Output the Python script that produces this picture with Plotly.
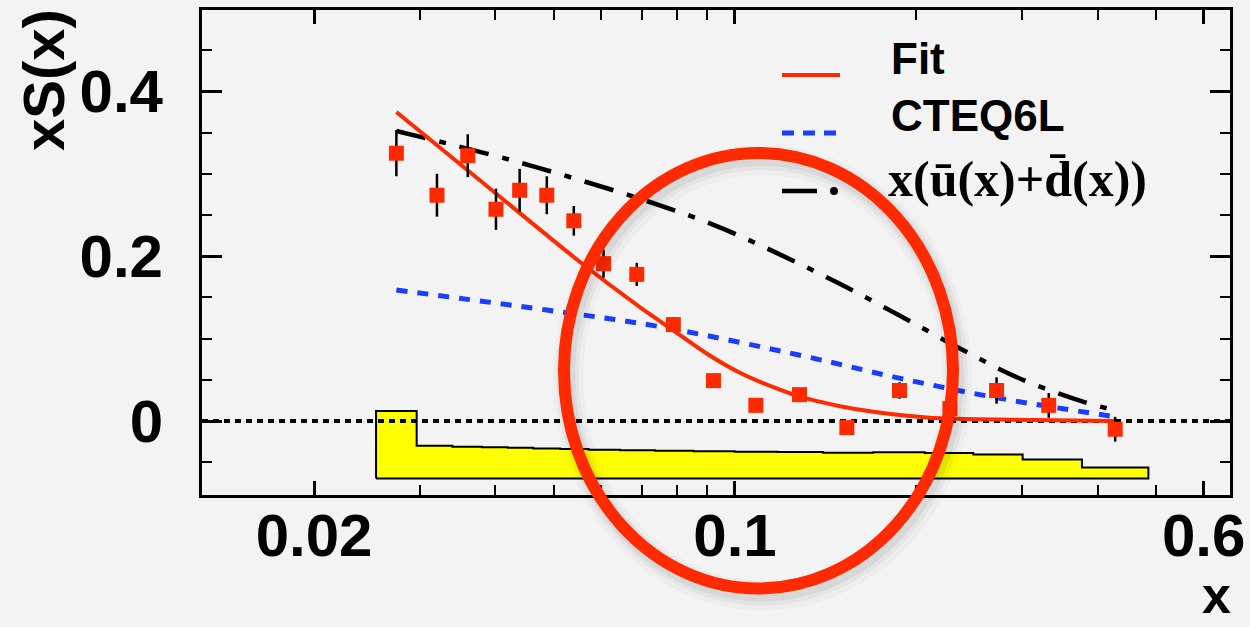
import numpy as np
import plotly.graph_objects as go

# ---------------- data ----------------
x_data = [0.0274, 0.0320, 0.0360, 0.0401, 0.0439, 0.0487, 0.0540, 0.0605, 0.0687, 0.0790,
          0.0921, 0.1083, 0.1280, 0.1534, 0.1876, 0.2275, 0.2719, 0.3319, 0.4279]
y_data = [0.325, 0.274, 0.322, 0.257, 0.280, 0.274, 0.243, 0.191, 0.178, 0.117,
          0.049, 0.019, 0.032, -0.008, 0.037, 0.015, 0.037, 0.019, -0.010]
y_err = [0.028, 0.026, 0.026, 0.025, 0.026, 0.023, 0.018, 0.017, 0.014, 0.009,
         0.007, 0.006, 0.006, 0.006, 0.010, 0.010, 0.016, 0.015, 0.015]

# systematic band (top of each bin, bins centred on data points), band floor
sys_top = [0.0121, -0.0300, -0.0312, -0.0319, -0.0324, -0.0334, -0.0340, -0.0348, -0.0356, -0.0360,
           -0.0368, -0.0373, -0.0376, -0.0385, -0.0380, -0.0388, -0.0407, -0.0467, -0.0564]
sys_floor = -0.0698

fit_x = [0.0274, 0.0389, 0.0553, 0.0696, 0.0790, 0.0897, 0.1019, 0.1158, 0.1282, 0.1494,
         0.1697, 0.1929, 0.2191, 0.3126, 0.4279]
fit_y = [0.375, 0.284, 0.193, 0.138, 0.110, 0.082, 0.0586, 0.041, 0.0295, 0.018,
         0.0113, 0.0064, 0.0033, 0.0012, 0.0]

cteq_x = [0.0274, 0.0487, 0.0751, 0.1315, 0.1879, 0.2756, 0.4279]
cteq_y = [0.159, 0.1347, 0.1144, 0.078, 0.0518, 0.0275, 0.0052]

ubar_x = [0.0274, 0.0332, 0.0428, 0.0549, 0.0714, 0.0915, 0.1165, 0.1479, 0.1866, 0.2364, 0.2983, 0.3838, 0.4279]
ubar_y = [0.352, 0.337, 0.316, 0.293, 0.267, 0.239, 0.205, 0.168, 0.129, 0.088, 0.051, 0.022, 0.013]

x_tickvals = [0.02, 0.1, 0.6]
x_ticktext = ["0.02", "0.1", "0.6"]
x_minor = [0.03, 0.04, 0.05, 0.06, 0.07, 0.08, 0.09, 0.2, 0.3, 0.4, 0.5]
y_tickvals = [0, 0.2, 0.4]
y_ticktext = ["0", "0.2", "0.4"]

x_range_log = [-1.885, -0.178]
y_range = [-0.0898, 0.4988]

# ---------------- layout geometry (pixels) ----------------
W, H = 1250, 627
L, R, T, B = 202, 20, 10, 132
PW, PH = W - L - R, H - T - B


def px(x):
    return (x - L) / PW


def py(y):
    return (H - B - y) / PH


RED = "#ff2a00"
BLUE = "#1a3dff"
BG = "#f3f3f3"
SANS = "Liberation Sans, Arial, sans-serif"
SERIF = "Liberation Serif, Times New Roman, serif"

fig = go.Figure()

# systematic band: step polygon with bin edges at geometric midpoints
xd = np.array(x_data)
mids = np.sqrt(xd[:-1] * xd[1:])
edges = np.concatenate([[xd[0] ** 2 / mids[0]], mids, [xd[-1] ** 2 / mids[-1]]])
hx, hy = [edges[0]], [sys_floor]
for i, top in enumerate(sys_top):
    hx += [edges[i], edges[i + 1]]
    hy += [top, top]
hx += [edges[-1], edges[0]]
hy += [sys_floor, sys_floor]
fig.add_trace(go.Scatter(x=hx, y=hy, mode="lines", fill="toself", fillcolor="#ffff00",
                         line=dict(color="black", width=2), hoverinfo="skip"))

# zero line
fig.add_trace(go.Scatter(x=[10 ** x_range_log[0], 10 ** x_range_log[1]], y=[0, 0], mode="lines",
                         line=dict(color="black", width=4, dash="6px,5px"), hoverinfo="skip"))

# curves
fig.add_trace(go.Scatter(x=ubar_x, y=ubar_y, mode="lines", line_shape="spline",
                         line=dict(color="black", width=4.5, dash="30px,14px,7px,14px"), name="ubar"))
fig.add_trace(go.Scatter(x=cteq_x, y=cteq_y, mode="lines", line_shape="spline",
                         line=dict(color=BLUE, width=5, dash="11px,10px"), name="CTEQ6L"))
fig.add_trace(go.Scatter(x=fit_x, y=fit_y, mode="lines", line_shape="spline",
                         line=dict(color=RED, width=4, smoothing=0.8), name="Fit"))

# data: error bars first (behind), then square markers
fig.add_trace(go.Scatter(x=x_data, y=y_data, mode="markers",
                         marker=dict(size=1, color="rgba(0,0,0,0)"),
                         error_y=dict(type="data", array=y_err, color="black", thickness=2.5, width=0),
                         hoverinfo="skip"))
fig.add_trace(go.Scatter(x=x_data, y=y_data, mode="markers",
                         marker=dict(symbol="square", size=15, color=RED, line=dict(width=0)),
                         name="data"))

axis_common = dict(showline=True, linecolor="black", linewidth=3, mirror="allticks", automargin=False,
                   ticks="inside", tickcolor="black", tickwidth=2.5, showgrid=False, zeroline=False,
                   tickfont=dict(family=SANS, size=60, color="black", weight="bold"))

fig.update_xaxes(type="log", range=x_range_log, tickmode="array", tickvals=x_tickvals,
                 ticktext=x_ticktext, ticklen=14, ticklabelstandoff=-14,
                 minor=dict(tickmode="array", tickvals=x_minor, ticklen=10, tickwidth=2,
                            tickcolor="black", ticks="inside"),
                 **axis_common)
fig.update_yaxes(range=y_range, tickmode="array", tickvals=y_tickvals, ticktext=y_ticktext,
                 ticklen=20, ticklabelstandoff=24,
                 minor=dict(dtick=0.05, tick0=0, ticklen=10, tickwidth=2, tickcolor="black",
                            ticks="inside"),
                 **axis_common)

shapes = []
# legend samples
shapes.append(dict(type="line", xref="paper", yref="paper", x0=px(782), x1=px(840), y0=py(75), y1=py(75),
                   line=dict(color=RED, width=4)))
shapes.append(dict(type="line", xref="paper", yref="paper", x0=px(782), x1=px(840), y0=py(133), y1=py(133),
                   line=dict(color=BLUE, width=5, dash="12px,9px")))
shapes.append(dict(type="line", xref="paper", yref="paper", x0=px(782), x1=px(817), y0=py(191), y1=py(191),
                   line=dict(color="black", width=4.5)))
shapes.append(dict(type="circle", xref="paper", yref="paper", x0=px(830), x1=px(838), y0=py(195), y1=py(187),
                   fillcolor="black", line=dict(color="black", width=0)))

# highlight ellipse with soft shadow
ex0, ex1, ey0, ey1 = 564, 953, 153, 588.5
for off, w, a in [(7, 30, 0.025), (6, 22, 0.035), (5, 16, 0.05)]:
    shapes.append(dict(type="circle", xref="paper", yref="paper",
                       x0=px(ex0 + off * 0.6), x1=px(ex1 + off * 0.6), y0=py(ey1 + off), y1=py(ey0 + off),
                       line=dict(color=f"rgba(0,0,0,{a})", width=w)))
shapes.append(dict(type="circle", xref="paper", yref="paper",
                   x0=px(ex0), x1=px(ex1), y0=py(ey1), y1=py(ey0),
                   line=dict(color=RED, width=12)))

annotations = [
    dict(text="<b>Fit</b>", x=px(889), y=py(59), xref="paper", yref="paper", xanchor="left",
         yanchor="middle", showarrow=False, font=dict(family=SANS, size=44, color="black")),
    dict(text="<b>CTEQ6L</b>", x=px(889), y=py(115), xref="paper", yref="paper", xanchor="left",
         yanchor="middle", showarrow=False, font=dict(family=SANS, size=44, color="black")),
    dict(text="<b>x(\u016b(x)+d\u0304(x))</b>", x=px(886), y=py(179), xref="paper", yref="paper",
         xanchor="left", yanchor="middle", showarrow=False, font=dict(family=SERIF, size=50, color="black")),
    dict(text="<b>xS(x)</b>", x=px(43), y=py(80), xref="paper", yref="paper", xanchor="center",
         yanchor="middle", textangle=-90, showarrow=False, font=dict(family=SANS, size=58, color="black")),
    dict(text="<b>x</b>", x=px(1216), y=py(626), xref="paper", yref="paper", xanchor="center",
         yanchor="bottom", showarrow=False, font=dict(family=SANS, size=52, color="black")),
]

fig.update_layout(width=W, height=H, margin=dict(l=L, r=R, t=T, b=B, pad=0),
                  paper_bgcolor=BG, plot_bgcolor=BG, showlegend=False,
                  shapes=shapes, annotations=annotations)

fig.write_html("out.html", config={"displayModeBar": False},
               post_script="document.body.style.margin='0';document.body.style.padding='0';"
                           "document.body.style.overflow='hidden';document.body.style.background='#f3f3f3';")
